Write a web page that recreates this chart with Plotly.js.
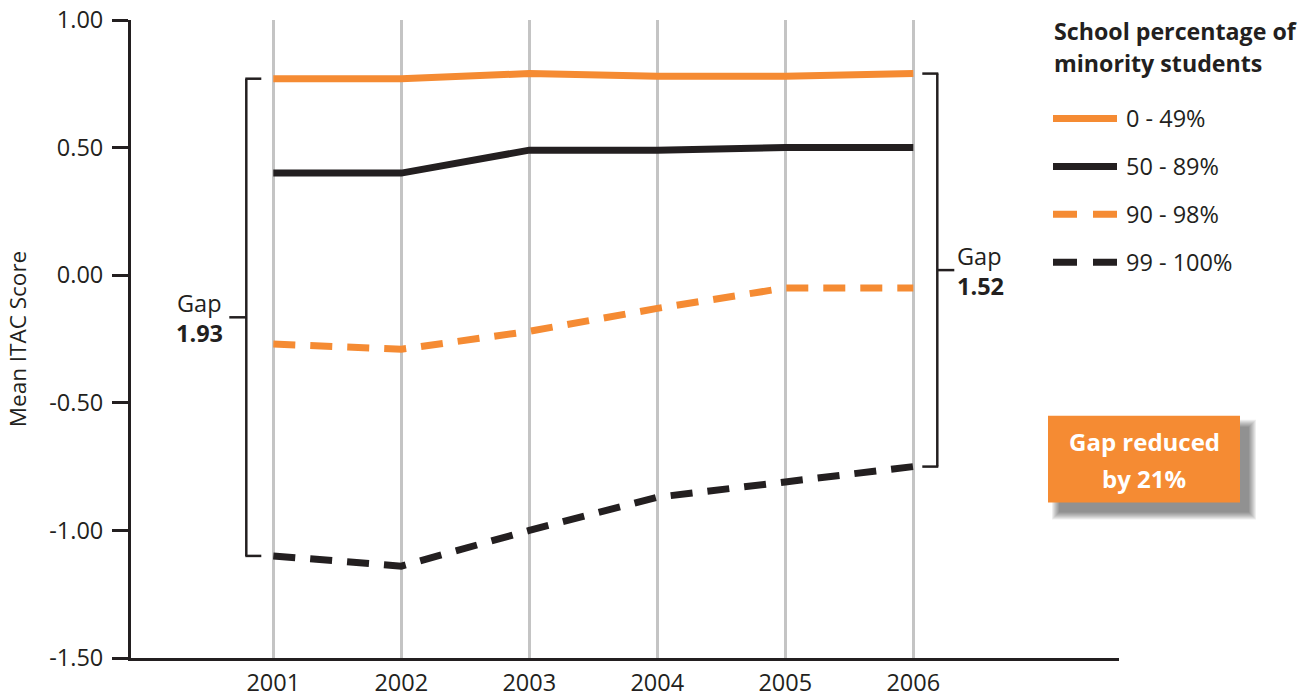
<!DOCTYPE html>
<html>
<head>
<meta charset="utf-8">
<script src="https://cdn.plot.ly/plotly-3.0.1.min.js"></script>
<style>
  html, body { margin: 0; padding: 0; background: #ffffff; }
  #chart { width: 1312px; height: 699px; }
</style>
</head>
<body>
<div id="chart"></div>
<script>
// Mean ITAC score by school percentage of minority students, 2001-2006
const years = [2001, 2002, 2003, 2004, 2005, 2006];
const seriesNames = ['0 - 49%', '50 - 89%', '90 - 98%', '99 - 100%'];
const minority0to49 = [0.77, 0.77, 0.79, 0.78, 0.78, 0.79];
const minority50to89 = [0.40, 0.40, 0.49, 0.49, 0.50, 0.50];
const minority90to98 = [-0.27, -0.29, -0.22, -0.13, -0.05, -0.05];
const minority99to100 = [-1.10, -1.14, -1.00, -0.87, -0.81, -0.75];
const yTickVals = [1, 0.5, 0, -0.5, -1, -1.5];
const yTickText = ['1.00', '0.50', '0.00', '-0.50', '-1.00', '-1.50'];
const gapFirstYear = '1.93';
const gapLastYear = '1.52';
const legendTitleLines = ['School percentage of', 'minority students'];
const calloutLines = ['Gap reduced', 'by 21%'];
const yAxisTitle = 'Mean ITAC Score';

const ORANGE = '#f58b33';
const INK = '#231f20';
const GRID = '#c4c4c4';
const FONT = '"Open Sans", "Noto Sans", sans-serif';
const DASH = '22px,15px';
const TXT = 23.5;

// plot area in page pixels
const L = 131, R = 1119, T = 20, B = 658.5;
const px2x = x => (x - L) / (R - L);
const px2y = y => (B - y) / (B - T);

const seriesValues = [minority0to49, minority50to89, minority90to98, minority99to100];
const seriesColors = [ORANGE, INK, ORANGE, INK];
const seriesDash = ['solid', 'solid', DASH, DASH];

const traces = seriesValues.map((vals, i) => ({
  type: 'scatter',
  mode: 'lines',
  name: seriesNames[i],
  x: years,
  y: vals,
  line: { color: seriesColors[i], width: 7, dash: seriesDash[i] },
  showlegend: false,
  hoverinfo: 'x+y+name'
}));

const shapes = [];
const annotations = [];

// gap brackets spanning the top and bottom groups at the first and last year
function bracket(year, top, bottom, side) {
  const s = { type: 'line', xref: 'x', yref: 'y', xsizemode: 'pixel', xanchor: year,
              line: { color: INK, width: 2.5 } };
  const mid = (top + bottom) / 2;
  if (side === 'left') {
    shapes.push(Object.assign({}, s, { x0: -27, x1: -27, y0: top, y1: bottom }));
    shapes.push(Object.assign({}, s, { x0: -28, x1: -12, y0: top, y1: top }));
    shapes.push(Object.assign({}, s, { x0: -28, x1: -12, y0: bottom, y1: bottom }));
    shapes.push(Object.assign({}, s, { x0: -44, x1: -27, y0: mid, y1: mid }));
  } else {
    shapes.push(Object.assign({}, s, { x0: 24, x1: 24, y0: top, y1: bottom }));
    shapes.push(Object.assign({}, s, { x0: 9, x1: 25, y0: top, y1: top }));
    shapes.push(Object.assign({}, s, { x0: 9, x1: 25, y0: bottom, y1: bottom }));
    shapes.push(Object.assign({}, s, { x0: 24, x1: 41, y0: mid, y1: mid }));
  }
  return mid;
}
const last = years.length - 1;
const midFirst = bracket(years[0], minority0to49[0], minority99to100[0], 'left');
const midLast = bracket(years[last], minority0to49[last], minority99to100[last], 'right');

const gapFont = { family: FONT, size: TXT, color: INK };
const gapBold = { family: FONT, size: TXT, color: INK, weight: 700 };
annotations.push({ xref: 'x', yref: 'y', x: years[0], y: midFirst, xshift: -49, yshift: 14,
  xanchor: 'right', yanchor: 'middle', text: 'Gap', showarrow: false, font: gapFont });
annotations.push({ xref: 'x', yref: 'y', x: years[0], y: midFirst, xshift: -48, yshift: -16,
  xanchor: 'right', yanchor: 'middle', text: gapFirstYear, showarrow: false, font: gapBold });
annotations.push({ xref: 'x', yref: 'y', x: years[last], y: midLast, xshift: 42, yshift: 14,
  xanchor: 'left', yanchor: 'middle', text: 'Gap', showarrow: false, font: gapFont });
annotations.push({ xref: 'x', yref: 'y', x: years[last], y: midLast, xshift: 42, yshift: -16,
  xanchor: 'left', yanchor: 'middle', text: gapLastYear, showarrow: false, font: gapBold });

// legend
legendTitleLines.forEach((line, k) => {
  annotations.push({ xref: 'paper', yref: 'paper', x: px2x(1052), y: px2y(31 + 32 * k),
    xanchor: 'left', yanchor: 'middle', text: line, showarrow: false,
    font: { family: FONT, size: 23.2, color: INK, weight: 700 } });
});
seriesNames.forEach((name, i) => {
  const yc = 118.5 + 48 * i;
  shapes.push({ type: 'line', xref: 'paper', yref: 'paper',
    x0: px2x(1053), x1: px2x(1117), y0: px2y(yc), y1: px2y(yc),
    line: { color: seriesColors[i], width: 7, dash: i < 2 ? 'solid' : '24px,16px' } });
  annotations.push({ xref: 'paper', yref: 'paper', x: px2x(1124), y: px2y(yc), xanchor: 'left', yanchor: 'middle',
    text: name, showarrow: false, font: { family: FONT, size: TXT, color: INK } });
});

// callout box with soft shadow
const box = { x0: 1048, x1: 1240, y0: 416, y1: 503 };
for (let j = 7; j >= 0; j--) {
  shapes.push({ type: 'rect', xref: 'paper', yref: 'paper', layer: 'above',
    x0: px2x(box.x0 + 11 - j), x1: px2x(box.x1 + 9 + j), y0: px2y(box.y0 + 11 - j), y1: px2y(box.y1 + 10 + j),
    fillcolor: 'rgba(0,0,0,0.065)', line: { width: 0 } });
}
shapes.push({ type: 'rect', xref: 'paper', yref: 'paper', layer: 'above',
  x0: px2x(box.x0), x1: px2x(box.x1), y0: px2y(box.y0), y1: px2y(box.y1),
  fillcolor: ORANGE, line: { width: 0 } });
calloutLines.forEach((line, k) => {
  annotations.push({ xref: 'paper', yref: 'paper', x: px2x((box.x0 + box.x1) / 2), y: px2y(442 + 37 * k),
    xanchor: 'center', yanchor: 'middle', text: line, showarrow: false,
    font: { family: FONT, size: 24, color: '#ffffff', weight: 700 } });
});

const layout = {
  width: 1312, height: 699,
  margin: { l: L, r: 1312 - R, t: T, b: 699 - B, pad: 0 },
  paper_bgcolor: '#ffffff', plot_bgcolor: '#ffffff',
  font: { family: FONT, size: TXT, color: INK },
  showlegend: false,
  xaxis: {
    range: [2001 - (273.3 - L) / 128, 2006 + (R - 913.3) / 128],
    tickvals: years, ticktext: years.map(String),
    ticks: '', showgrid: true, gridcolor: GRID, gridwidth: 2.5,
    showline: true, linecolor: INK, linewidth: 3, zeroline: false,
    tickfont: { family: FONT, size: TXT, color: INK }, ticklabelstandoff: 2,
    fixedrange: true
  },
  yaxis: {
    range: [-1.5, 1.0],
    tickvals: yTickVals, ticktext: yTickText,
    ticks: 'outside', ticklen: 16, tickwidth: 3, tickcolor: INK,
    showgrid: false, zeroline: false,
    showline: true, linecolor: INK, linewidth: 3,
    tickfont: { family: FONT, size: TXT, color: INK }, ticklabelstandoff: 4,
    title: { text: yAxisTitle, font: { family: FONT, size: 22.5, color: INK }, standoff: 17 },
    fixedrange: true
  },
  shapes: shapes,
  annotations: annotations
};

Plotly.newPlot('chart', traces, layout, { displayModeBar: false, staticPlot: true });
</script>
</body>
</html>
